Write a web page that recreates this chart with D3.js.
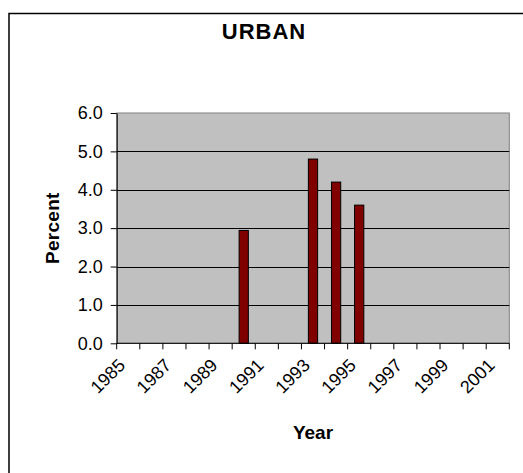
<!DOCTYPE html>
<html>
<head>
<meta charset="utf-8">
<script src="https://cdn.jsdelivr.net/npm/d3@7"></script>
<style>
	body { margin: 0; background: #fff; }
	text { font-family: "Liberation Sans", Arial, sans-serif; fill: #000; }
</style>
</head>
<body>
<div id="chart"></div>
<script>
//chart data
var years = ['1985','1986','1987','1988','1989','1990','1991','1992','1993','1994','1995','1996','1997','1998','1999','2000','2001'];
var urbanPercent = [null, null, null, null, null, 2.94, null, null, 4.80, 4.20, 3.60, null, null, null, null, null, null];
var yTicks = [0, 1, 2, 3, 4, 5, 6];
var xLabels = ['1985','1987','1989','1991','1993','1995','1997','1999','2001'];

var width = 523, height = 473;
var plot = { left: 116.7, right: 509.3, top: 113, bottom: 343.3 };

var svg = d3.select('#chart').append('svg')
	.attr('width', width)
	.attr('height', height);

//chart area border (runs off the right and bottom edge)
svg.append('rect')
	.attr('x', 9)
	.attr('y', 13.5)
	.attr('width', 530)
	.attr('height', 480)
	.style('fill', 'white')
	.style('stroke', '#000')
	.style('stroke-width', 1.5);

//scales
var xScale = d3.scaleBand()
	.domain(years)
	.range([plot.left, plot.right])
	.paddingInner(0.6)
	.paddingOuter(0.3);
var step = xScale.step();

var yScale = d3.scaleLinear()
	.domain([0, 6])
	.range([plot.bottom, plot.top]);

//plot area
svg.append('rect')
	.attr('x', plot.left)
	.attr('y', plot.top)
	.attr('width', plot.right - plot.left)
	.attr('height', plot.bottom - plot.top)
	.style('fill', '#c0c0c0')
	.style('stroke', '#808080')
	.style('stroke-width', 1);

//gridlines
svg.append('g')
	.selectAll('line')
	.data(yTicks.filter(function(d) { return d > 0 && d < 6; }))
	.enter().append('line')
	.attr('x1', plot.left)
	.attr('x2', plot.right)
	.attr('y1', function(d) { return Math.round(yScale(d)) + 0.5; })
	.attr('y2', function(d) { return Math.round(yScale(d)) + 0.5; })
	.style('stroke', '#000')
	.style('stroke-width', 1);

//bars
svg.append('g')
	.selectAll('rect')
	.data(years.map(function(y, i) { return { year: y, value: urbanPercent[i] }; })
		.filter(function(d) { return d.value != null; }))
	.enter().append('rect')
	.attr('x', function(d) { return xScale(d.year); })
	.attr('y', function(d) { return yScale(d.value); })
	.attr('width', xScale.bandwidth())
	.attr('height', function(d) { return plot.bottom - yScale(d.value); })
	.style('fill', '#800000')
	.style('stroke', '#000')
	.style('stroke-width', 1);

//y axis
var yAxis = svg.append('g')
	.attr('transform', 'translate(' + plot.left + ',0)')
	.call(d3.axisLeft(yScale).tickValues(yTicks).tickFormat(d3.format('.1f')).tickSize(6).tickSizeOuter(0));
yAxis.select('.domain').style('stroke', '#000');
yAxis.selectAll('line').style('stroke', '#000');
yAxis.selectAll('text')
	.attr('x', -14)
	.style('font-size', '18px')
	.style('font-family', '"Liberation Sans", Arial, sans-serif')
	.style('fill', '#000');

//x axis line + ticks between categories
var xAxis = svg.append('g');
xAxis.append('line')
	.attr('x1', plot.left)
	.attr('x2', plot.right)
	.attr('y1', plot.bottom)
	.attr('y2', plot.bottom)
	.style('stroke', '#000');
xAxis.selectAll('.tick')
	.data(d3.range(years.length + 1))
	.enter().append('line')
	.attr('class', 'tick')
	.attr('x1', function(i) { return plot.left + i * step; })
	.attr('x2', function(i) { return plot.left + i * step; })
	.attr('y1', plot.bottom)
	.attr('y2', plot.bottom + 6)
	.style('stroke', '#000');

xAxis.selectAll('.xlabel')
	.data(xLabels)
	.enter().append('text')
	.attr('class', 'xlabel')
	.attr('transform', function(d) {
		var cx = xScale(d) + xScale.bandwidth() / 2;
		return 'translate(' + (cx - 2) + ',' + (plot.bottom + 23) + ') rotate(-45)';
	})
	.attr('text-anchor', 'end')
	.style('font-size', '18px')
	.text(function(d) { return d; });

//titles
svg.append('text')
	.attr('x', 264)
	.attr('y', 39)
	.attr('text-anchor', 'middle')
	.style('font-size', '22px')
	.style('letter-spacing', '1px')
	.style('font-weight', 'bold')
	.text('URBAN');

svg.append('text')
	.attr('x', (plot.left + plot.right) / 2)
	.attr('y', 438.5)
	.attr('text-anchor', 'middle')
	.style('font-size', '19px')
	.style('font-weight', 'bold')
	.text('Year');

svg.append('text')
	.attr('transform', 'translate(59,' + ((plot.top + plot.bottom) / 2) + ') rotate(-90)')
	.attr('text-anchor', 'middle')
	.style('font-size', '19px')
	.style('letter-spacing', '0.3px')
	.style('font-weight', 'bold')
	.text('Percent');
</script>
</body>
</html>
